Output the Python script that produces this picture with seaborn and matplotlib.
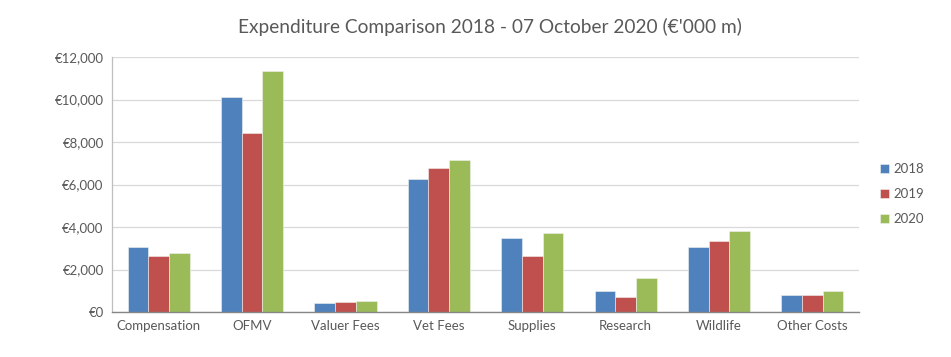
import numpy as np
import pandas as pd
import matplotlib
matplotlib.use("Agg")
import matplotlib.pyplot as plt
import seaborn as sns
from matplotlib.ticker import FuncFormatter

categories = ['Compensation', 'OFMV', 'Valuer Fees', 'Vet Fees',
              'Supplies', 'Research', 'Wildlife', 'Other Costs']
years = ['2018', '2019', '2020']
v2018 = [3050, 10120, 410, 6260, 3480, 1000, 3050, 820]
v2019 = [2620, 8420, 455, 6760, 2650, 700, 3340, 790]
v2020 = [2780, 11340, 520, 7180, 3720, 1600, 3830, 1000]
colors = ['#4F81BD', '#C0504D', '#9BBB59']

rows = []
for yr, vals in zip(years, [v2018, v2019, v2020]):
    for c, v in zip(categories, vals):
        rows.append({'Category': c, 'Year': yr, 'Value': v})
df = pd.DataFrame(rows)

sns.set_style('white')
plt.rcParams['font.family'] = ['Lato', 'DejaVu Sans']
text_col = '#595959'

fig = plt.figure(figsize=(9.51, 3.57), dpi=100)
ax = fig.add_axes([0.1178, 0.126, 0.7855, 0.714])

sns.barplot(data=df, x='Category', y='Value', hue='Year', order=categories,
            hue_order=years, palette=colors, width=0.665, saturation=1,
            errorbar=None, edgecolor='#F2F2F2', linewidth=0.4, ax=ax)

ax.set_ylim(0, 12000)
ax.set_yticks(np.arange(0, 12001, 2000))
ax.yaxis.set_major_formatter(FuncFormatter(lambda v, p: '€{:,.0f}'.format(v)))
ax.grid(axis='y', color='#D9D9D9', linewidth=0.9)
ax.set_axisbelow(True)
ax.set_xlabel('')
ax.set_ylabel('')
ax.set_xlim(-0.5, len(categories) - 0.5)
for s in ['top', 'right']:
    ax.spines[s].set_visible(False)
ax.spines['left'].set_color('#BFBFBF')
ax.spines['left'].set_linewidth(0.9)
ax.spines['bottom'].set_color('#868686')
ax.spines['bottom'].set_linewidth(1.0)
ax.tick_params(axis='both', length=0, labelsize=9.5, colors=text_col, pad=6)

handles, labels = ax.get_legend_handles_labels()
ax.legend(handles, labels, loc='center left', bbox_to_anchor=(1.012, 0.463),
          frameon=False, fontsize=9.5, labelcolor=text_col,
          handlelength=0.7, handleheight=0.7, handletextpad=0.3,
          labelspacing=1.0)

fig.text(490 / 951, 1 - 27 / 357, "Expenditure Comparison 2018 - 07 October 2020 (€'000 m)",
         ha='center', va='center', fontsize=13.8, color=text_col)

fig.savefig('out.png', dpi=100)
